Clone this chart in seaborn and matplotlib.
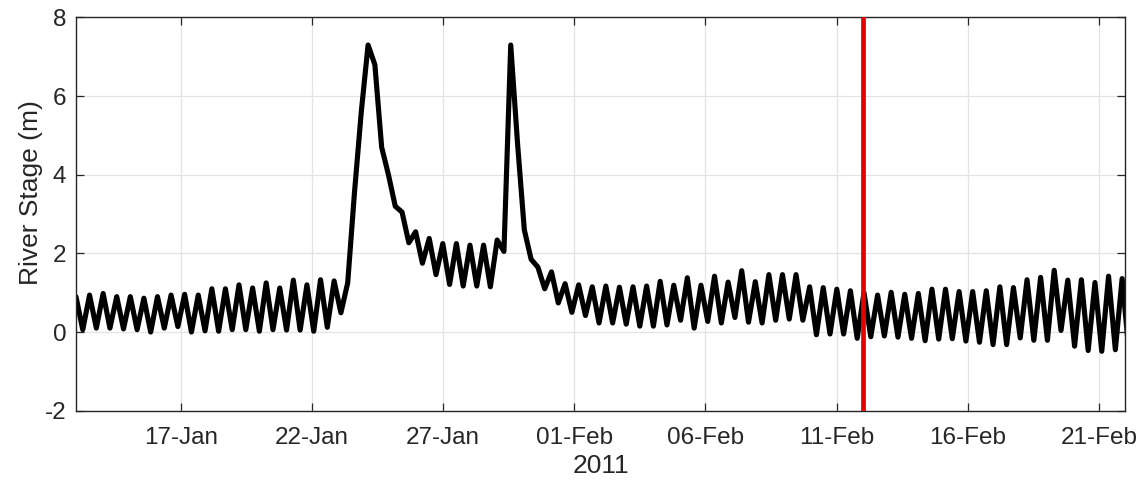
import numpy as np
import pandas as pd
import matplotlib
matplotlib.use('Agg')
import matplotlib.pyplot as plt
import matplotlib.dates as mdates
import seaborn as sns

# River stage (m) at successive tidal turning points
stage_before_flood = [0.90, 0.06, 0.94, 0.10, 0.98, 0.10, 0.90, 0.08, 0.90, 0.06,
                      0.86, 0.00, 0.90, 0.10, 0.94, 0.14, 0.96, 0.00, 0.94, 0.03,
                      1.10, 0.02, 1.10, 0.06, 1.20, 0.06, 1.12, 0.02, 1.25, 0.06,
                      1.12, 0.05, 1.32, 0.05, 1.20, 0.02, 1.33, 0.12, 1.30, 0.49]
stage_first_flood = [1.25, 3.55, 5.60, 7.30, 6.80, 4.70, 4.00, 3.20, 3.05, 2.27,
                     2.55, 1.75]
stage_plateau = [2.38, 1.46, 2.25, 1.21, 2.25, 1.17, 2.21, 1.17, 2.21, 1.15,
                 2.34, 2.05]
stage_second_flood = [7.30, 4.80, 2.60, 1.85, 1.65, 1.10, 1.53, 0.74]
stage_february = [1.23, 0.50, 1.20, 0.42, 1.15, 0.23, 1.17, 0.23, 1.14, 0.20,
                  1.15, 0.15, 1.17, 0.15, 1.29, 0.18, 1.19, 0.30, 1.38, 0.10,
                  1.19, 0.27, 1.42, 0.23, 1.27, 0.37, 1.56, 0.25, 1.28, 0.23,
                  1.46, 0.30, 1.46, 0.33, 1.46, 0.30, 1.15, -0.07, 1.13, -0.05,
                  1.09, -0.05, 1.05, -0.16, 1.00, -0.12, 0.94, -0.10, 1.01, -0.13,
                  0.96, -0.16, 0.98, -0.22, 1.09, -0.18, 1.09, -0.17, 1.03, -0.23,
                  1.03, -0.26, 1.05, -0.32, 1.15, -0.32, 1.13, -0.15, 1.33, -0.21,
                  1.39, -0.21, 1.57, 0.04, 1.32, -0.36, 1.33, -0.47, 1.26, -0.49,
                  1.42, -0.45, 1.36, -0.50]

marker_date = pd.Timestamp('2011-02-12')
tick_dates = pd.date_range('2011-01-17', '2011-02-21', freq='5D')

stage = (stage_before_flood + stage_first_flood + stage_plateau
         + stage_second_flood + stage_february)
# turning points are half a tidal cycle apart (about 6 h 13 min)
times = pd.date_range('2011-01-13 00:00', periods=len(stage), freq='373min')
df = pd.DataFrame({'time': times, 'stage': stage})

sns.set_style('whitegrid')
plt.rcParams['font.family'] = ['Liberation Sans', 'DejaVu Sans']
plt.rcParams['axes.unicode_minus'] = False
text_col = '#262626'

fig = plt.figure(figsize=(11.44, 4.86), dpi=100)
ax = fig.add_axes([0.0664, 0.155, 0.917, 0.809])

sns.lineplot(data=df, x='time', y='stage', ax=ax, color='black',
             linewidth=3.7, estimator=None,
             solid_joinstyle='round', solid_capstyle='round')
ax.axvline(marker_date, color='#e60000', linewidth=3.4, zorder=5)

ax.set_xlim(pd.Timestamp('2011-01-13'), pd.Timestamp('2011-02-22'))
ax.set_ylim(-2, 8)
ax.set_yticks([-2, 0, 2, 4, 6, 8])
ax.set_xticks(tick_dates)
ax.xaxis.set_major_formatter(mdates.DateFormatter('%d-%b'))

ax.grid(True, color='#e3e3e3', linewidth=0.9)
for s in ax.spines.values():
    s.set_color(text_col)
    s.set_linewidth(1.0)
    s.set_visible(True)
ax.tick_params(direction='in', length=6, width=0.9, color=text_col,
               labelsize=17.5, labelcolor=text_col,
               top=True, right=True, bottom=True, left=True)
ax.tick_params(axis='x', pad=12)
ax.tick_params(axis='y', pad=7)

ax.set_xlabel('2011', fontsize=19, color=text_col, labelpad=3)
ax.set_ylabel('River Stage (m)', fontsize=19, color=text_col)
ax.yaxis.set_label_coords(-0.031, 0.555)

fig.savefig('out.png', dpi=100)
